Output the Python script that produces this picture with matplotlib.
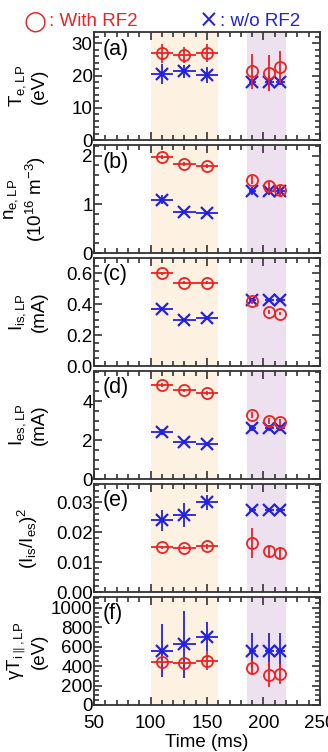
import matplotlib
matplotlib.use('Agg')
import matplotlib.pyplot as plt
from matplotlib.ticker import MultipleLocator, FormatStrFormatter

plt.rcParams['font.family'] = ['Liberation Sans', 'DejaVu Sans']
plt.rcParams['mathtext.fontset'] = 'custom'
plt.rcParams['mathtext.rm'] = 'Liberation Sans'
plt.rcParams['mathtext.it'] = 'Liberation Sans'
plt.rcParams['mathtext.bf'] = 'Liberation Sans:bold'

RED = '#ee2222'
BLUE = '#2222dd'

# time points (ms) and horizontal bars
time = [110, 130, 150, 190, 205, 215]
xerr_rf = [10, 10, 10, 0, 0, 0]
xerr_wo = [10, 10, 10, 3, 4, 4]

te_rf = [26.9, 26.4, 27.0, 21.3, 20.8, 22.6]
te_rf_err = [3.0, 2.5, 2.8, 5.5, 5.5, 5.0]
te_wo = [20.5, 21.3, 20.3, 18.0, 18.0, 18.0]
te_wo_err = [3.0, 2.0, 2.5, 1.0, 2.3, 1.0]

ne_rf = [1.97, 1.83, 1.78, 1.50, 1.38, 1.30]
ne_rf_err = [0.04, 0.04, 0.04, 0.08, 0.10, 0.10]
ne_wo = [1.10, 0.85, 0.83, 1.27, 1.27, 1.27]
ne_wo_err = [0.10, 0.04, 0.03, 0.08, 0.08, 0.10]

iis_rf = [0.60, 0.54, 0.54, 0.42, 0.35, 0.34]
iis_rf_err = [0.01, 0.01, 0.01, 0.015, 0.01, 0.01]
iis_wo = [0.37, 0.30, 0.31, 0.43, 0.43, 0.43]
iis_wo_err = [0.01, 0.01, 0.01, 0.01, 0.005, 0.005]

ies_rf = [4.85, 4.55, 4.40, 3.30, 3.00, 2.95]
ies_rf_err = [0.10, 0.10, 0.10, 0.15, 0.15, 0.15]
ies_wo = [2.40, 1.90, 1.80, 2.60, 2.60, 2.60]
ies_wo_err = [0.15, 0.12, 0.12, 0.15, 0.15, 0.15]

ratio_rf = [0.0150, 0.0148, 0.0153, 0.0163, 0.0137, 0.0130]
ratio_rf_err = [0.0005, 0.0005, 0.0008, 0.0050, 0.0020, 0.0020]
ratio_wo = [0.0240, 0.0257, 0.0300, 0.0275, 0.0275, 0.0275]
ratio_wo_err = [0.0035, 0.0040, 0.0025, 0.0005, 0.0005, 0.0005]

ti_rf = [440, 430, 455, 385, 310, 320]
ti_rf_err = [30, 20, 95, 80, 130, 100]
ti_wo = [560, 625, 700, 560, 560, 560]
ti_wo_err = [275, 345, 150, 185, 185, 185]

panels = [
    ('(a)', 'T$_{e,LP}$\n(eV)', te_rf, te_rf_err, te_wo, te_wo_err, (0, 33.5), 10, 2, '%d'),
    ('(b)', 'n$_{e,LP}$\n(10$^{16}$ m$^{-3}$)', ne_rf, ne_rf_err, ne_wo, ne_wo_err, (0, 2.22), 1, 0.2, '%d'),
    ('(c)', 'I$_{is,LP}$\n(mA)', iis_rf, iis_rf_err, iis_wo, iis_wo_err, (0, 0.70), 0.2, 0.05, '%.1f'),
    ('(d)', 'I$_{es,LP}$\n(mA)', ies_rf, ies_rf_err, ies_wo, ies_wo_err, (0, 5.55), 2, 0.5, '%d'),
    ('(e)', '(I$_{is}$/I$_{es}$)$^2$', ratio_rf, ratio_rf_err, ratio_wo, ratio_wo_err, (0, 0.0362), 0.01, 0.002, '%.2f'),
    ('(f)', '$\\gamma$T$_{i\\parallel,LP}$\n(eV)', ti_rf, ti_rf_err, ti_wo, ti_wo_err, (0, 1110), 200, 50, '%d'),
]

fig, axes = plt.subplots(6, 1, figsize=(3.28, 7.52), dpi=100, sharex=True)
fig.subplots_adjust(left=0.2866, right=0.9756, top=0.9574, bottom=0.0625, hspace=0.046)

for ax, (tag, label, rf, rf_err, wo, wo_err, ylim, major, minor, fmt) in zip(axes, panels):
    ax.axvspan(100, 160, color='#fdf1e2', lw=0, zorder=0)
    ax.axvspan(185, 220, color='#ede1ef', lw=0, zorder=0)
    ax.errorbar(time, wo, yerr=wo_err, xerr=xerr_wo, fmt='x', color=BLUE,
                ms=8, mew=1.6, elinewidth=1.3, capsize=0, zorder=3)
    ax.errorbar(time, rf, yerr=rf_err, xerr=xerr_rf, fmt='o', color=RED, mfc='none',
                ms=8, mew=1.3, elinewidth=1.3, capsize=0, zorder=4)
    ax.set_xlim(50, 250)
    ax.set_ylim(*ylim)
    ax.yaxis.set_major_locator(MultipleLocator(major))
    ax.yaxis.set_minor_locator(MultipleLocator(minor))
    ax.yaxis.set_major_formatter(FormatStrFormatter(fmt))
    ax.xaxis.set_major_locator(MultipleLocator(50))
    ax.xaxis.set_minor_locator(MultipleLocator(10))
    ax.tick_params(which='both', direction='in', top=True, right=True, labelsize=13.5,
                   width=1.2, color='#333333')
    ax.tick_params(axis='y', pad=1)
    ax.tick_params(axis='x', pad=7.5)
    ax.tick_params(which='major', length=6)
    ax.tick_params(which='minor', length=3.5)
    for s in ax.spines.values():
        s.set_linewidth(1.3)
        s.set_color('#333333')
    ax.text(0.04, 0.94, tag, transform=ax.transAxes, fontsize=15.5, va='top', ha='left')
    ax.set_ylabel(label, fontsize=13.5, linespacing=1.2)
    ax.yaxis.set_label_coords(-0.205 if '\n' in label else -0.24, 0.5)

axes[-1].set_xlabel('Time (ms)', fontsize=13.5, labelpad=1)

# header key
fig.text(0.073, 0.971, '\u25cb', color=RED, fontsize=19, ha='left', va='center',
         family='DejaVu Sans')
fig.text(0.150, 0.972, ': With RF2', color=RED, fontsize=13.5, ha='left', va='center')
fig.text(0.605, 0.973, '\u00d7', color=BLUE, fontsize=17, ha='left', va='center',
         family='DejaVu Sans')
fig.text(0.672, 0.972, ': w/o RF2', color=BLUE, fontsize=13.5, ha='left', va='center')

plt.savefig('out.png', dpi=100)
